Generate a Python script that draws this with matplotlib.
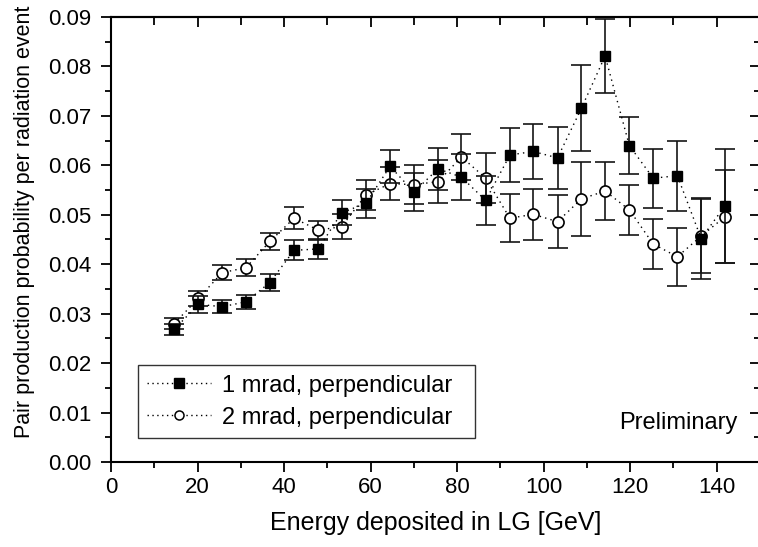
import matplotlib
matplotlib.use("Agg")
import matplotlib.pyplot as plt
from matplotlib.lines import Line2D
from matplotlib.ticker import MultipleLocator

plt.rcParams['font.family'] = ['Liberation Sans', 'DejaVu Sans']

energy = [14.6, 20.2, 25.7, 31.2, 36.7, 42.3, 47.9, 53.3, 58.9, 64.5, 70.0, 75.6,
          81.0, 86.6, 92.2, 97.6, 103.2, 108.7, 114.2, 119.8, 125.3, 130.9, 136.4, 141.9]

prob_1mrad = [0.0268, 0.0319, 0.0314, 0.0324, 0.0363, 0.0428, 0.0431, 0.0504, 0.0523,
              0.0598, 0.0546, 0.0593, 0.0576, 0.0529, 0.0621, 0.0628, 0.0615, 0.0715,
              0.0821, 0.0640, 0.0574, 0.0579, 0.0452, 0.0518]
err_1mrad = [0.0012, 0.0017, 0.0013, 0.0014, 0.0017, 0.0020, 0.0020, 0.0025, 0.0030,
             0.0034, 0.0038, 0.0043, 0.0046, 0.0049, 0.0054, 0.0055, 0.0062, 0.0087,
             0.0074, 0.0058, 0.0060, 0.0071, 0.0082, 0.0115]

prob_2mrad = [0.0280, 0.0331, 0.0383, 0.0393, 0.0446, 0.0493, 0.0469, 0.0476, 0.0540,
              0.0563, 0.0561, 0.0567, 0.0617, 0.0574, 0.0493, 0.0501, 0.0486, 0.0532,
              0.0548, 0.0510, 0.0441, 0.0415, 0.0457, 0.0496]
err_2mrad = [0.0012, 0.0015, 0.0015, 0.0017, 0.0018, 0.0022, 0.0019, 0.0025, 0.0031,
             0.0034, 0.0039, 0.0043, 0.0047, 0.0050, 0.0049, 0.0051, 0.0053, 0.0075,
             0.0058, 0.0051, 0.0051, 0.0059, 0.0075, 0.0094]

labels = ["1 mrad, perpendicular", "2 mrad, perpendicular"]

W, H = 758, 547
fig = plt.figure(figsize=(W / 100, H / 100), dpi=100)
ax = fig.add_axes([111 / W, 1 - 462 / H, (760 - 111) / W, (462 - 17) / H])

dotted = (0, (1, 3))
eb = dict(color='black', ecolor='#151515', elinewidth=1.2, capsize=7, capthick=1.2,
          linestyle=dotted, linewidth=1.0)

ax.errorbar(energy, prob_2mrad, yerr=err_2mrad, marker='o', markersize=8,
            markerfacecolor='white', markeredgecolor='black', markeredgewidth=1.2,
            zorder=2, **eb)
ax.errorbar(energy, prob_1mrad, yerr=err_1mrad, marker='s', markersize=7.5,
            markerfacecolor='black', markeredgecolor='black',
            zorder=3, **eb)

ax.set_xlim(0, 150)
ax.set_ylim(0, 0.09)
ax.xaxis.set_major_locator(MultipleLocator(20))
ax.xaxis.set_minor_locator(MultipleLocator(10))
ax.yaxis.set_major_locator(MultipleLocator(0.01))
ax.yaxis.set_minor_locator(MultipleLocator(0.005))
ax.yaxis.set_major_formatter(plt.FormatStrFormatter('%.2f'))

for s in ax.spines.values():
    s.set_linewidth(1.5)

ax.tick_params(which='both', direction='out', labelsize=16, width=1.3, colors='black')
ax.tick_params(which='major', length=7)
ax.tick_params(which='minor', length=4)
ax.tick_params(axis='x', pad=4)
ax.tick_params(axis='y', pad=7)

# mirrored axes on top and right with inward ticks
top = ax.secondary_xaxis('top')
top.xaxis.set_major_locator(MultipleLocator(20))
top.xaxis.set_minor_locator(MultipleLocator(10))
top.tick_params(which='both', direction='in', labeltop=False, width=1.3)
top.tick_params(which='major', length=7)
top.tick_params(which='minor', length=6)
right = ax.secondary_yaxis('right')
right.yaxis.set_major_locator(MultipleLocator(0.01))
right.yaxis.set_minor_locator(MultipleLocator(0.005))
right.tick_params(which='both', direction='in', labelright=False, width=1.3)
right.tick_params(which='major', length=7)
right.tick_params(which='minor', length=4)
for sec in (top, right):
    for s in sec.spines.values():
        s.set_linewidth(1.5)

ax.set_xlabel("Energy deposited in LG [GeV]", fontsize=18, labelpad=9)
ax.set_ylabel("Pair production probability per radiation event", fontsize=15.5)
ax.yaxis.set_label_coords(-0.117, 0.54)

handles = [
    Line2D([], [], color='black', linestyle=(0, (1, 2.5)), linewidth=1.0, marker='s',
           markersize=7, markerfacecolor='black', markeredgecolor='black'),
    Line2D([], [], color='black', linestyle=(0, (1, 2.5)), linewidth=1.0, marker='o',
           markersize=6.5, markerfacecolor='white', markeredgecolor='black',
           markeredgewidth=1.1),
]
leg = ax.legend(handles, labels, loc='lower left', mode='expand',
                bbox_to_anchor=(0.0416, 0.054, 0.519, 0.166),
                fontsize=17, frameon=True, fancybox=False, edgecolor='black',
                handlelength=2.7, handletextpad=0.45, borderpad=0.4, labelspacing=0.42,
                borderaxespad=0)
leg.get_frame().set_linewidth(1.0)

ax.text(0.966, 0.088, "Preliminary", transform=ax.transAxes, ha='right', va='center',
        fontsize=17)

fig.savefig("out.png", dpi=100)
